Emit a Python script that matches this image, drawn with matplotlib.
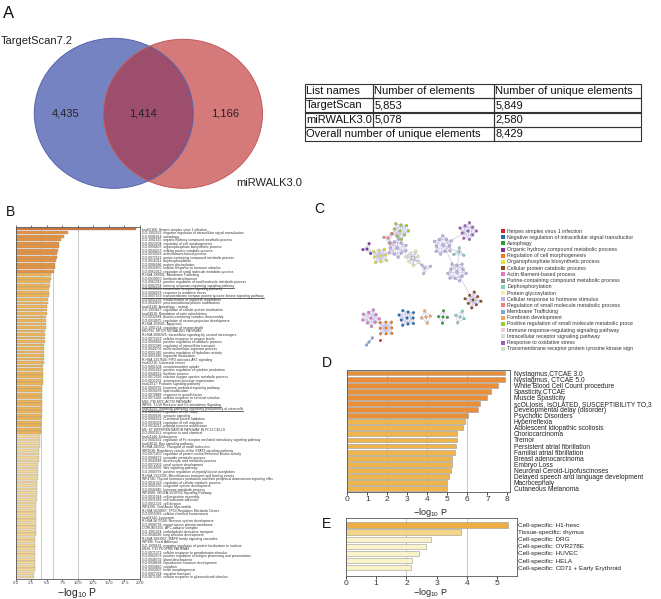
import numpy as np
import matplotlib
matplotlib.use('Agg')
import matplotlib.pyplot as plt
from matplotlib.patches import Ellipse, Rectangle
from matplotlib.collections import LineCollection
from matplotlib.transforms import Bbox

plt.rcParams['font.family'] = ['Liberation Sans', 'DejaVu Sans']

# ---------------- data ----------------
venn_names = ['TargetScan7.2', 'miRWALK3.0']
venn_counts = [4435, 1414, 1166]   # only-left, both, only-right

table_header = ['List names', 'Number of elements', 'Number of unique elements']
table_rows = [['TargetScan', '5,853', '5,849'],
              ['miRWALK3.0', '5,078', '2,580'],
              ['Overall number of unique elements', '', '8,429']]

b_labels = [
    'hsa05168: Herpes simplex virus 1 infection',
    'GO:1902532: negative regulation of intracellular signal transduction',
    'GO:0006914: autophagy',
    'GO:1901615: organic hydroxy compound metabolic process',
    'GO:0022604: regulation of cell morphogenesis',
    'GO:0090407: organophosphate biosynthetic process',
    'GO:0044257: cellular protein catabolic process',
    'GO:0030029: actin filament-based process',
    'GO:0072521: purine-containing compound metabolic process',
    'GO:0016311: dephosphorylation',
    'GO:0006486: protein glycosylation',
    'GO:0032870: cellular response to hormone stimulus',
    'GO:0062012: regulation of small molecule metabolic process',
    'R-HSA-199991: Membrane Trafficking',
    'GO:0030900: forebrain development',
    'GO:0062013: positive regulation of small molecule metabolic process',
    'GO:0002764: immune response-regulating signaling pathway',
    'GO:0030522: intracellular receptor signaling pathway',
    'GO:0006979: response to oxidative stress',
    'GO:0007169: transmembrane receptor protein tyrosine kinase signaling pathway',
    'GO:0051656: establishment of organelle localization',
    'GO:0043687: post-translational protein modification',
    'hsa04140: Autophagy - animal',
    'GO:1903827: regulation of cellular protein localization',
    'hsa04810: Regulation of actin cytoskeleton',
    'GO:0032984: protein-containing complex disassembly',
    'GO:0010975: regulation of neuron projection development',
    'R-HSA-109581: Apoptosis',
    'GO:1901214: regulation of neuron death',
    'M10792: MTOR SIGNALING PATHWAY',
    'R-HSA-9006925: Intracellular signaling by second messengers',
    'GO:0071453: cellular response to oxygen levels',
    'GO:0009896: positive regulation of catabolic process',
    'GO:0032386: regulation of intracellular transport',
    'GO:0044706: multi-multicellular organism process',
    'GO:0051345: positive regulation of hydrolase activity',
    'GO:0051640: organelle localization',
    'R-HSA-1257604: PIP3 activates AKT signaling',
    'hsa05210: Colorectal cancer',
    'GO:0001504: neurotransmitter uptake',
    'GO:0001819: positive regulation of cytokine production',
    'GO:0048511: rhythmic process',
    'GO:0072593: reactive oxygen species metabolic process',
    'GO:0031032: actomyosin structure organization',
    'hsa04917: Prolactin signaling pathway',
    'GO:0009755: hormone-mediated signaling pathway',
    'GO:0030258: lipid modification',
    'GO:0070848: response to growth factor',
    'GO:0071496: cellular response to external stimulus',
    'M66: PID MYC ACTIV PATHWAY',
    'WP69: T-Cell Receptor and Co-stimulatory Signaling',
    'hsa04550: Signaling pathways regulating pluripotency of stem cells',
    'GO:0008360: regulation of cell shape',
    'GO:0099536: synaptic signaling',
    'GO:0006501: C-terminal protein lipidation',
    'GO:0030334: regulation of cell migration',
    'GO:0018212: peptidyl-tyrosine modification',
    'M5: ST DIFFERENTIATION PATHWAY IN PC12 CELLS',
    'GO:0001101: response to acid chemical',
    'hsa04144: Endocytosis',
    'GO:0002431: regulation of Fc receptor mediated stimulatory signaling pathway',
    'hsa04014: Ras signaling pathway',
    'R-HSA-382551: Transport of small molecules',
    'WP4538: Regulatory circuits of the STAT3 signaling pathway',
    'GO:0071900: regulation of protein serine/threonine kinase activity',
    'GO:0006672: ceramide metabolic process',
    'GO:0043648: dicarboxylic acid metabolic process',
    'GO:0072001: renal system development',
    'GO:0016055: Wnt signaling pathway',
    'GO:2000758: positive regulation of peptidyl-lysine acetylation',
    'R-HSA-5223345: Miscellaneous transport and binding events',
    'WP4746: Thyroid hormones production and their peripheral downstream signaling effects',
    'GO:0031329: regulation of cellular catabolic process',
    'GO:0001655: urogenital system development',
    'GO:0042445: hormone metabolic process',
    'WP3888: VEGFA-VEGFR2 Signaling Pathway',
    'GO:0031344: cell projection assembly',
    'GO:0031589: cell-substrate adhesion',
    'GO:0051301: cell division',
    'WP4298: Viral Acute Myocarditis',
    'R-HSA-5628897: TP53 Regulates Metabolic Genes',
    'GO:0055082: cellular chemical homeostasis',
    'hsa04142: Lysosome',
    'R-HSA-9675108: Nervous system development',
    'GO:0098739: import across plasma membrane',
    'CORUM:6255: APC-adaptor complex',
    'GO:1901264: carbohydrate derivative transport',
    'GO:0048286: lung alveolus development',
    'R-HSA-5683057: MAPK family signaling cascades',
    'WP306: Focal Adhesion',
    'GO:1900181: negative regulation of protein localization to nucleus',
    'M186: PID PDGFRB PATHWAY',
    'GO:0071371: cellular response to gonadotropin stimulus',
    'GO:0002579: positive regulation of antigen processing and presentation',
    'GO:0048732: gland development',
    'GO:0048608: reproductive structure development',
    'GO:0050890: cognition',
    'GO:0003007: heart morphogenesis',
    'GO:0007034: vacuolar transport',
    'GO:0071385: cellular response to glucocorticoid stimulus',
]
b_values = [19.4, 8.4, 7.7, 7.3, 7.0, 6.9, 6.8, 6.7, 6.6, 6.5, 6.4, 6.3, 6.2,
            5.7, 5.6, 5.5, 5.45, 5.4, 5.35, 5.3, 5.2, 5.15, 5.1, 5.05, 5.0, 4.95,
            4.9, 4.85, 4.8, 4.75, 4.72, 4.7, 4.67, 4.63, 4.6, 4.57, 4.54, 4.5,
            4.48, 4.45, 4.42, 4.4, 4.38, 4.35, 4.33, 4.31, 4.3, 4.28, 4.26, 4.24,
            4.22, 4.2, 4.18, 4.16, 4.14, 4.12, 4.1, 4.08, 4.06,
            3.95, 3.92, 3.88, 3.85, 3.81, 3.77, 3.74, 3.70, 3.66, 3.62, 3.59,
            3.55, 3.51, 3.48, 3.44, 3.40, 3.38, 3.37, 3.35, 3.34, 3.32, 3.30,
            3.29, 3.27, 3.26, 3.24, 3.22, 3.21, 3.19, 3.18, 3.16, 3.14, 3.13,
            3.11, 3.10, 3.08, 3.06, 3.05, 3.03, 3.02, 3.00]
b_underlined = [16, 19, 50, 51]
b_ticks = [0.0, 2.5, 5.0, 7.5, 10.0, 12.5, 15.0, 17.5, 20.0]

c_legend = ['Herpes simplex virus 1 infection',
            'Negative regulation of intracellular signal transductior',
            'Autophagy',
            'Organic hydroxy compound metabolic process',
            'Regulation of cell morphogenesis',
            'Organophosphate biosynthetic process',
            'Cellular protein catabolic process',
            'Actin filament-based process',
            'Purine-containing compound metabolic process',
            'Dephosphorylation',
            'Protein glycosylation',
            'Cellular response to hormone stimulus',
            'Regulation of small molecule metabolic process',
            'Membrane Trafficking',
            'Forebrain development',
            'Positive regulation of small molecule metabolic proce',
            'Immune response-regulating signaling pathway',
            'Intracellular receptor signaling pathway',
            'Response to oxidative stress',
            'Transmembrane receptor protein tyrosine kinase sign']
c_colors = ['#d62728', '#1f6fb0', '#2ca02c', '#7b3294', '#f47a20', '#e2e23c',
            '#8c4a1e', '#e377c2', '#8c8c8c', '#80cdc1', '#f3efb0', '#bcb4e0',
            '#f08080', '#7fa7d3', '#f4a460', '#9acd32', '#f7c6da', '#d9d9d9',
            '#a05eb5', '#c7e9c0']

# network clusters: centre x, centre y, node count, colour index
net_x = [400, 397, 380, 367, 388, 413, 425, 468, 443, 459, 457, 473, 371, 386, 407, 426, 443, 460, 369]
net_y = [231, 248, 256, 249, 238, 258, 268, 231, 245, 252, 272, 300, 318, 328, 318, 317, 317, 317, 342]
net_n = [10, 12, 9, 4, 4, 8, 4, 10, 12, 4, 12, 9, 10, 9, 10, 5, 5, 5, 3]
net_col = [15, 11, 5, 3, 12, 10, 11, 18, 11, 9, 11, 6, 7, 4, 1, 14, 2, 9, 13]
net_links = [(0, 1), (1, 2), (2, 3), (4, 1), (1, 5), (5, 6), (0, 4), (8, 7), (8, 9), (8, 10), (9, 10), (10, 11), (12, 13)]

d_labels = ['Nystagmus,CTCAE 3.0', 'Nystagmus, CTCAE 5.0', 'White Blood Cell Count procedure',
            'Spasticity,CTCAE', 'Muscle Spasticity', 'scOLIosis, IsOLATED, SUSCEPTIBILITY TO,3',
            'Developmental delay (disorder)', 'Psychotic Disorders', 'Hyperreflexia',
            'Adolescent idiopathic scoliosis', 'Choriocarcinoma', 'Tremor',
            'Persistent atrial fibrillation', 'Familial atrial fibrillation',
            'Breast adenocarcinoma', 'Embryo Loss', 'Neuronal Ceroid-Lipofuscinoses',
            'Delayed speech and language development', 'Macrocephaly', 'Cutaneous Melanoma']
d_values = [7.88, 7.88, 7.55, 7.18, 6.97, 6.63, 6.52, 6.05, 5.88, 5.8, 5.47, 5.47,
            5.43, 5.4, 5.25, 5.22, 5.18, 5.07, 5.0, 4.97]

e_labels = ['Cell-specific: H1-hesc', 'Tissue-specific: thymus', 'Cell-specific: DRG',
            'Cell-specific: OVR278E', 'Cell-specific: HUVEC', 'Cell-specific: HELA',
            'Cell-specific: CD71 + Early Erythroid']
e_values = [5.37, 3.82, 2.82, 2.64, 2.42, 2.19, 2.16]

# ---------------- figure ----------------
W, H = 661, 599
fig = plt.figure(figsize=(W / 100, H / 100), dpi=100)
canvas = fig.add_axes([0, 0, 1, 1])
canvas.set_xlim(0, W)
canvas.set_ylim(H, 0)
canvas.axis('off')


def px_axes(l, t, r, b):
    return fig.add_axes([l / W, 1 - b / H, (r - l) / W, (b - t) / H])


XL = '\u2212log$_{\\mathregular{10}}$ P'

# panel letters
for let, x, y, fs in [('A', 3, 6, 12), ('B', 6, 205, 10), ('C', 314, 202, 10),
                      ('D', 322, 356, 10), ('E', 322, 517, 10)]:
    canvas.text(x, y, let, fontsize=fs, va='top', ha='left', color='#111')

# ---------------- A: Venn ----------------
blue = Ellipse((113.8, 113.3), 159, 150, facecolor='#7683c2', edgecolor='none')
red = Ellipse((183, 113.8), 159, 149, facecolor='#d57a7a', edgecolor='none')
canvas.add_patch(blue)
canvas.add_patch(red)
ov = Ellipse((183, 113.8), 159, 149, facecolor='#9d4e6d', edgecolor='none')
canvas.add_patch(ov)
ov.set_clip_path(blue)
canvas.add_patch(Ellipse((113.8, 113.3), 159, 150, facecolor='none', edgecolor='#5564ad', lw=0.7))
canvas.add_patch(Ellipse((183, 113.8), 159, 149, facecolor='none', edgecolor='#c45a5a', lw=0.7))
for x, v in zip([66, 143, 225], venn_counts):
    canvas.text(x, 113, f'{v:,}', fontsize=8, ha='center', va='center', color='#222')
canvas.text(1, 41, venn_names[0], fontsize=8, ha='left', va='center', color='#222')
canvas.text(236, 183, venn_names[1], fontsize=8, ha='left', va='center', color='#222')

# table
tab_ax = px_axes(305, 84, 641, 141)
tab_ax.axis('off')
col_px = [68, 121, 147]
tbl = tab_ax.table(cellText=[table_header] + table_rows,
                   colWidths=[c / sum(col_px) for c in col_px],
                   bbox=[0, 0, 1, 1], cellLoc='left')
tbl.auto_set_font_size(False)
tbl.set_fontsize(8)
for (r, c), cell in tbl.get_celld().items():
    cell.set_edgecolor('#333333')
    cell.set_linewidth(0.8)
    cell.set_facecolor('none')
    cell.PAD = 1.2 / col_px[c]
    cell.get_text().set_color('#111')
tbl[3, 0].visible_edges = 'BTL'
tbl[3, 1].visible_edges = 'BTR'

# ---------------- B ----------------
axB = px_axes(15.7, 227, 140, 579)
nB = len(b_values)
bcols = []
for i in range(nB):
    if i == 0:
        bcols.append('#d8692a')
    elif i < 13:
        bcols.append('#e8903a')
    elif i < 59:
        bcols.append('#f0b452')
    else:
        bcols.append('#f5d894')
for xv in [4, 6, 10]:
    axB.axvline(xv, color='#c8c8c8', lw=0.7, zorder=0)
axB.barh(np.arange(nB), b_values, height=0.78, color=bcols, edgecolor='#9a9a9a', lw=0.3, zorder=2)
axB.set_xlim(0, 20)
axB.set_ylim(nB - 0.4, -0.6)
axB.set_yticks(np.arange(nB))
axB.set_yticklabels(b_labels, fontsize=2.4, color='#333')
axB.yaxis.tick_right()
axB.tick_params(axis='y', length=0, pad=1.5)
axB.set_xticks(b_ticks)
axB.set_xticklabels([f'{t:.1f}' for t in b_ticks], fontsize=3.2, color='#444')
axB.tick_params(axis='x', length=1.2, width=0.4, pad=0.6, top=True, direction='out')
for s in axB.spines.values():
    s.set_color('#555')
    s.set_linewidth(0.6)
canvas.text(77, 592.5, XL, fontsize=7.5, ha='center', va='center', color='#222')
clipbox = Bbox.from_extents(141, 0, 273, H)
for lbl in axB.get_yticklabels():
    lbl.set_clip_box(clipbox)
    lbl.set_clip_on(True)

# ---------------- C: network ----------------
segs = []
nodes_x, nodes_y, nodes_c = [], [], []
centres = []
for k, (cx, cy, n, ci) in enumerate(zip(net_x, net_y, net_n, net_col)):
    m = n - 1
    r = 4 + 0.45 * n
    ang = np.linspace(0, 2 * np.pi, m, endpoint=False) + 0.3 * k
    rr = np.where(np.arange(m) % 2 == 0, r, r * 0.72)
    lx = cx + rr * np.cos(ang)
    ly = cy + rr * np.sin(ang)
    for j in range(m):
        segs.append([(cx, cy), (lx[j], ly[j])])
        segs.append([(lx[j], ly[j]), (lx[(j + 1) % m], ly[(j + 1) % m])])
        if m > 5:
            segs.append([(lx[j], ly[j]), (lx[(j + 3) % m], ly[(j + 3) % m])])
    nodes_x += [cx] + list(lx)
    nodes_y += [cy] + list(ly)
    nodes_c += [c_colors[ci]] * n
    centres.append((cx, cy))
for a, b in net_links:
    segs.append([centres[a], centres[b]])
canvas.add_collection(LineCollection(segs, colors='#b9b2da', linewidths=0.35, zorder=3))
canvas.scatter(nodes_x, nodes_y, s=4, c=nodes_c, edgecolors='#777', linewidths=0.15, zorder=4)
canvas.scatter([380], [340], s=4, c=c_colors[0], edgecolors='#777', linewidths=0.15, zorder=4)

for i, (name, col) in enumerate(zip(c_legend, c_colors)):
    y = 231 + i * 6.2
    canvas.add_patch(Rectangle((501, y - 2), 4, 4, facecolor=col, edgecolor='none'))
    canvas.text(507.3, y, name, fontsize=3.8, va='center', ha='left', color='#333')

# ---------------- D ----------------
axD = px_axes(347.3, 370, 510, 491.7)
nD = len(d_values)
for xv in [2, 4, 6]:
    axD.axvline(xv, color='#c8c8c8', lw=0.7, zorder=0)
axD.barh(np.arange(nD), d_values, height=0.8,
         color=['#ea8f38' if i < 8 else '#efb44c' for i in range(nD)],
         edgecolor='#9a9a9a', lw=0.4, zorder=2)
axD.set_xlim(0, 8.13)
axD.set_ylim(nD - 0.5, -0.5)
axD.set_yticks(np.arange(nD))
axD.set_yticklabels(d_labels, fontsize=4.8, color='#222')
axD.yaxis.tick_right()
axD.tick_params(axis='y', length=0, pad=2.8)
axD.set_xticks(range(0, 9))
axD.tick_params(axis='x', labelsize=6, labelcolor='#333', length=2, width=0.5, pad=1)
for s in axD.spines.values():
    s.set_color('#555')
    s.set_linewidth(0.6)
canvas.text(430, 512.5, XL, fontsize=6.5, ha='center', va='center', color='#222')

# ---------------- E ----------------
axE = px_axes(346, 518.3, 516.7, 576)
nE = len(e_values)
for xv in [2, 4]:
    axE.axvline(xv, color='#c8c8c8', lw=0.7, zorder=0)
axE.barh(np.arange(nE), e_values, height=0.75,
         color=['#efae45', '#f5d58a', '#f8f3c8', '#f8f3c8', '#f8f3c8', '#f8f3c8', '#f8f3c8'],
         edgecolor='#9a9a9a', lw=0.4, zorder=2)
axE.set_xlim(0, 5.65)
axE.set_ylim(7.17, -0.94)
axE.set_yticks(np.arange(nE))
axE.set_yticklabels(e_labels, fontsize=4.6, color='#222')
axE.yaxis.tick_right()
axE.tick_params(axis='y', length=0, pad=1)
axE.set_xticks(range(0, 6))
axE.tick_params(axis='x', labelsize=6, labelcolor='#333', length=2, width=0.5, pad=0.8)
for s in axE.spines.values():
    s.set_color('#555')
    s.set_linewidth(0.6)
canvas.text(430, 592.5, XL, fontsize=6.5, ha='center', va='center', color='#222')

# underlines in B
fig.canvas.draw()
ticklbls = axB.get_yticklabels()
for idx in b_underlined:
    bb = ticklbls[idx].get_window_extent()
    x1 = min(bb.x1, 273)
    canvas.plot([bb.x0, x1], [H - bb.y0 + 0.1] * 2, color='#222', lw=0.5)

fig.savefig('out.png', dpi=100)
